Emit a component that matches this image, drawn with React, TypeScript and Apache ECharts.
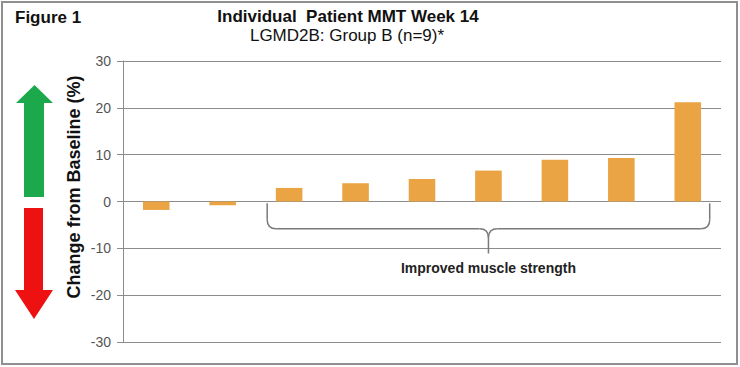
import React, { useEffect, useRef } from "react";
import * as echarts from "echarts";

const patients = ["P1", "P2", "P3", "P4", "P5", "P6", "P7", "P8", "P9"];
const changeFromBaseline = [-1.8, -0.8, 2.9, 3.9, 4.8, 6.6, 8.9, 9.3, 21.2];
const yTicks = { min: -30, max: 30, interval: 10 };
const improvedRange = [2, 8]; // category indices covered by the brace

const FONT = "'Liberation Sans', Arial, sans-serif";

export default function App() {
  const ref = useRef<HTMLDivElement>(null);
  useEffect(() => {
    if (!ref.current) return;
    const chart = echarts.init(ref.current, null, { renderer: "svg" });
    const baseOption: any = {
      animation: false,
      backgroundColor: "#ffffff",
      grid: { left: 123, right: 19, top: 61, bottom: 25, containLabel: false },
      xAxis: {
        type: "category",
        data: patients,
        axisLine: { show: false },
        axisTick: { show: false },
        axisLabel: { show: false },
        splitLine: { show: false },
      },
      yAxis: {
        type: "value",
        min: yTicks.min,
        max: yTicks.max,
        interval: yTicks.interval,
        axisLine: { show: true, lineStyle: { color: "#8c8c8c", width: 1 } },
        axisTick: { show: true, length: 6, lineStyle: { color: "#8c8c8c" } },
        axisLabel: { margin: 12, color: "#555555", fontSize: 14, fontFamily: FONT },
        splitLine: { show: true, lineStyle: { color: "#8c8c8c", width: 1 } },
      },
      series: [
        {
          type: "bar",
          data: changeFromBaseline,
          barWidth: "40%",
          itemStyle: { color: "#EAA443" },
        },
      ],
    };
    chart.setOption(baseOption);

    // Brace geometry from the chart's own scales
    const catW =
      (chart.convertToPixel({ xAxisIndex: 0 }, patients[1]) as number) -
      (chart.convertToPixel({ xAxisIndex: 0 }, patients[0]) as number);
    const xL = (chart.convertToPixel({ xAxisIndex: 0 }, patients[improvedRange[0]]) as number) - catW * 0.33;
    const xR = (chart.convertToPixel({ xAxisIndex: 0 }, patients[improvedRange[1]]) as number) + catW * 0.33;
    const xC = (xL + xR) / 2;
    const yTop = chart.convertToPixel({ yAxisIndex: 0 }, -0.4) as number;
    const yMid = chart.convertToPixel({ yAxisIndex: 0 }, -5.8) as number;
    const yTip = chart.convertToPixel({ yAxisIndex: 0 }, -11.1) as number;
    const yText = chart.convertToPixel({ yAxisIndex: 0 }, -14.3) as number;
    const r = 9;
    const braceStyle = { stroke: "#7a7a7a", lineWidth: 1.5, fill: "none" };

    const graphic: any[] = [
      {
        type: "rect",
        shape: { x: 2, y: 2, width: 735, height: 362 },
        style: { fill: "none", stroke: "#8f8f8f", lineWidth: 2 },
        z: 100,
      },
      {
        type: "text",
        x: 15,
        y: 17,
        style: { text: "Figure 1", font: `bold 17px ${FONT}`, fill: "#111", verticalAlign: "middle" },
      },
      {
        type: "text",
        x: 348,
        y: 16,
        style: {
          text: "Individual  Patient MMT Week 14",
          font: `bold 17px ${FONT}`,
          fill: "#111",
          align: "center",
          verticalAlign: "middle",
        },
      },
      {
        type: "text",
        x: 347,
        y: 35,
        style: {
          text: "LGMD2B: Group B (n=9)*",
          font: `17px ${FONT}`,
          fill: "#111",
          align: "center",
          verticalAlign: "middle",
        },
      },
      {
        type: "text",
        x: 74,
        y: 187,
        rotation: Math.PI / 2,
        style: {
          text: "Change from Baseline (%)",
          font: `bold 18px ${FONT}`,
          fill: "#111",
          align: "center",
          verticalAlign: "middle",
        },
      },
      // green up arrow
      {
        type: "polygon",
        shape: {
          points: [
            [34.5, 85],
            [53, 103],
            [44, 103],
            [44, 197],
            [24, 197],
            [24, 103],
            [16, 103],
          ],
        },
        style: { fill: "#1BA94C" },
      },
      // red down arrow
      {
        type: "polygon",
        shape: {
          points: [
            [24, 208],
            [43, 208],
            [43, 290],
            [53, 290],
            [34, 319],
            [15, 290],
            [24, 290],
          ],
        },
        style: { fill: "#EE1111" },
      },
      // brace pieces
      { type: "line", shape: { x1: xL, y1: yTop, x2: xL, y2: yMid - r }, style: braceStyle },
      {
        type: "bezierCurve",
        shape: { x1: xL, y1: yMid - r, cpx1: xL, cpy1: yMid, x2: xL + r, y2: yMid },
        style: braceStyle,
      },
      { type: "line", shape: { x1: xL + r, y1: yMid, x2: xC - r, y2: yMid }, style: braceStyle },
      {
        type: "bezierCurve",
        shape: { x1: xC - r, y1: yMid, cpx1: xC, cpy1: yMid, x2: xC, y2: yMid + r },
        style: braceStyle,
      },
      {
        type: "bezierCurve",
        shape: { x1: xC + r, y1: yMid, cpx1: xC, cpy1: yMid, x2: xC, y2: yMid + r },
        style: braceStyle,
      },
      { type: "line", shape: { x1: xC, y1: yMid + r, x2: xC, y2: yTip }, style: braceStyle },
      { type: "line", shape: { x1: xC + r, y1: yMid, x2: xR - r, y2: yMid }, style: braceStyle },
      {
        type: "bezierCurve",
        shape: { x1: xR - r, y1: yMid, cpx1: xR, cpy1: yMid, x2: xR, y2: yMid - r },
        style: braceStyle,
      },
      { type: "line", shape: { x1: xR, y1: yMid - r, x2: xR, y2: yTop }, style: braceStyle },
      {
        type: "text",
        x: xC,
        y: yText,
        style: {
          text: "Improved muscle strength",
          font: `bold 14px ${FONT}`,
          fill: "#222",
          align: "center",
          verticalAlign: "middle",
        },
      },
    ];
    chart.setOption({ graphic });
    return () => chart.dispose();
  }, []);
  return (
    <div
      ref={ref}
      style={{ position: "fixed", left: 0, top: 0, width: 740, height: 367 }}
    />
  );
}
